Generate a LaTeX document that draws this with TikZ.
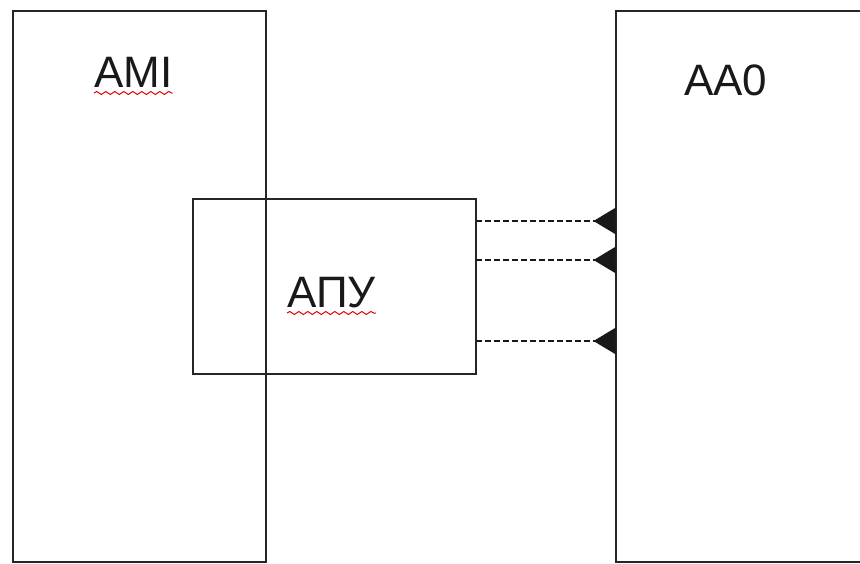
\documentclass[tikz,border=0pt]{standalone}
\usepackage{fontspec}
\setmainfont{Liberation Sans}
\usetikzlibrary{arrows.meta,decorations.pathmorphing}

\begin{document}
\begin{tikzpicture}[x=1pt,y=-1pt,
  box/.style={draw=black!85,line width=2pt,inner sep=0pt,outer sep=0pt},
  lbl/.style={font=\fontsize{44}{50}\selectfont,inner sep=0pt,anchor=base west,text=black!90},
  wavy/.style={red!85!black,line width=1pt,decorate,decoration={snake,segment length=9pt,amplitude=1.5pt}},
  link/.style={draw=black!90,line width=2pt,dash pattern=on 6pt off 3pt,-{Triangle[reversed,length=22pt,width=26pt]}}]
\clip (0,0) rectangle (860,563);
% blocks
\node[box,minimum width=253pt,minimum height=551pt] (ami) at (139,286.5) {};
\node[box,minimum width=300pt,minimum height=551pt] (aa0) at (765.5,286.5) {};
\node[box,minimum width=283pt,minimum height=175pt] (apu) at (334.5,286.5) {};
% labels
\node[lbl] (amilbl) at (94,87) {AMI};
\node[lbl] (aa0lbl) at (684,95) {AA0};
\node[lbl] (apulbl) at (287,307) {АПУ};
\draw[wavy] ([yshift=-6pt]amilbl.base west) -- ([yshift=-6pt]amilbl.base east);
\draw[wavy] ([yshift=-6pt]apulbl.base west) -- ([yshift=-6pt]apulbl.base east);
% links
\draw[link] (apu.east |- 0,221) -- (aa0.west |- 0,221);
\draw[link] (apu.east |- 0,260) -- (aa0.west |- 0,260);
\draw[link] (apu.east |- 0,341) -- (aa0.west |- 0,341);
\end{tikzpicture}
\end{document}
